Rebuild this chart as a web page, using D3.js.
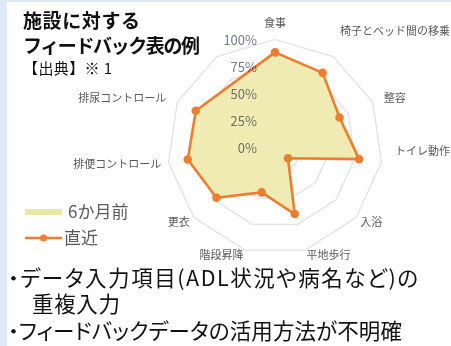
<!DOCTYPE html>
<html>
<head>
<meta charset="utf-8">
<script src="https://cdn.jsdelivr.net/npm/d3@7"></script>
<style>
  html, body { margin: 0; padding: 0; background: #fff; }
  svg { display: block; }
  text { font-family: "Noto Sans CJK JP", "Noto Sans", sans-serif; }
</style>
</head>
<body>
<svg id="chart" width="451" height="346"></svg>
<script>
// Barthel Index items; the last spoke of the radar carries no item
const categories = ["食事", "椅子とベッド間の移乗", "整容", "トイレ動作", "入浴", "平地歩行", "階段昇降", "更衣", "排便コントロール", "排尿コントロール", ""];
const sixMonthsAgo = [88, 82, 66, 79, 16, 65, 44, 72, 82, 81, null];
const latest       = [88, 82, 66, 79, 16, 65, 44, 72, 82, 81, null];
const radialTicks = [0, 25, 50, 75, 100];
const seriesNames = ["6か月前", "直近"];
const titleLines = ["施設に対する", "フィードバック表の例"];
const sourceNote = "【出典】※ 1";
const issueLines = ["・データ入力項目(ADL状況や病名など)の", "重複入力", "・フィードバックデータの活用方法が不明確"];

const W = 451, H = 346;
const svg = d3.select("#chart");

// page background with the pale blue frame on the top and left edges
svg.append("rect").attr("width", W).attr("height", H).attr("fill", "#fff");
svg.append("rect").attr("x", 0).attr("y", 0).attr("width", 7).attr("height", H).attr("fill", "#dfe8f5");
svg.append("rect").attr("x", 0).attr("y", 0).attr("width", W).attr("height", 2).attr("fill", "#dfe8f5");

// radar geometry
const cx = 275, cy = 147, R = 107.5;
const n = categories.length;
const angle = d3.scaleLinear().domain([0, n]).range([0, 2 * Math.PI]);
const r = d3.scaleLinear().domain([0, 100]).range([0, R]);
const g = svg.append("g").attr("transform", `translate(${cx},${cy})`);

const radial = d3.lineRadial()
  .angle(d => angle(d.i))
  .radius(d => r(d.v))
  .curve(d3.curveLinearClosed);

// grid rings
g.selectAll("path.ring")
  .data(radialTicks.filter(t => t > 0))
  .join("path")
  .attr("class", "ring")
  .attr("d", t => radial(categories.map((c, i) => ({ i, v: t }))))
  .attr("fill", "none")
  .attr("stroke", "#e2e2e2")
  .attr("stroke-width", 1.3);

const toPoints = vals => vals.map((v, i) => ({ i, v })).filter(d => d.v != null);

// earlier period: filled area
g.append("path")
  .attr("d", radial(toPoints(sixMonthsAgo)))
  .attr("fill", "#efebb3");

// most recent period: line with markers
const recent = toPoints(latest);
g.append("path")
  .attr("d", radial(recent))
  .attr("fill", "none")
  .attr("stroke", "#ed7d31")
  .attr("stroke-width", 2.6)
  .attr("stroke-linejoin", "round");
g.selectAll("circle.pt")
  .data(recent)
  .join("circle")
  .attr("class", "pt")
  .attr("cx", d => Math.sin(angle(d.i)) * r(d.v))
  .attr("cy", d => -Math.cos(angle(d.i)) * r(d.v))
  .attr("r", 4.3)
  .attr("fill", "#ed7d31");

// radial value labels, left of the vertical spoke
g.selectAll("text.tick")
  .data(radialTicks)
  .join("text")
  .attr("class", "tick")
  .attr("x", -18)
  .attr("y", t => -r(t))
  .attr("text-anchor", "end")
  .attr("dominant-baseline", "central")
  .attr("font-size", 13)
  .attr("fill", "#767a86")
  .style("mix-blend-mode", "multiply")
  .text(t => d3.format(".0%")(t / 100));

// category labels around the rim
g.selectAll("text.cat")
  .data(categories.map((c, i) => ({ c, i })).filter(d => d.c))
  .join("text")
  .attr("class", "cat")
  .each(function (d) {
    const a = angle(d.i);
    const s = Math.sin(a), co = Math.cos(a);
    const rr = R + 8 + 10 * Math.max(0, co) - 4 * Math.max(0, -co);
    let x = s * rr, y = -co * rr;
    const anchor = s > 0.1 ? "start" : s < -0.1 ? "end" : "middle";
    const t = d3.select(this)
      .attr("text-anchor", anchor)
      .attr("dominant-baseline", "central")
      .attr("font-size", 11)
      .attr("fill", "#585858")
      .text(d.c);
    // keep long labels inside the right edge, lifted clear of the rim
    const w = this.getComputedTextLength();
    if (anchor === "start" && cx + x + w > W - 10) {
      x = W - 1 - cx - w;
      y -= 13;
    }
    t.attr("x", x).attr("y", y);
  });

// title block
svg.selectAll("text.title")
  .data(titleLines)
  .join("text")
  .attr("class", "title")
  .attr("x", 23)
  .attr("y", (d, i) => 28 + i * 25)
  .attr("font-size", 19)
  .attr("font-weight", "bold")
  .attr("fill", "#111")
  .attr("textLength", (d, i) => [117, 177][i])
  .attr("lengthAdjust", "spacing")
  .text(d => d);
svg.append("text")
  .attr("x", 23).attr("y", 74)
  .attr("font-size", 15)
  .attr("fill", "#111")
  .attr("textLength", 89)
  .attr("lengthAdjust", "spacing")
  .text(sourceNote);

// legend
const lg = svg.append("g");
lg.append("rect").attr("x", 25).attr("y", 209).attr("width", 37).attr("height", 6).attr("fill", "#ebe7a6");
lg.append("line").attr("x1", 25).attr("x2", 62).attr("y1", 238).attr("y2", 238)
  .attr("stroke", "#ed7d31").attr("stroke-width", 2.6);
lg.append("circle").attr("cx", 43.5).attr("cy", 238).attr("r", 3.5).attr("fill", "#ed7d31");
lg.selectAll("text")
  .data(seriesNames)
  .join("text")
  .attr("x", (d, i) => [68, 64][i])
  .attr("y", (d, i) => [218, 244][i])
  .attr("font-size", 17)
  .attr("fill", "#5a5a5a")
  .text(d => d);

// issues listed below the chart
svg.selectAll("text.issue")
  .data(issueLines)
  .join("text")
  .attr("class", "issue")
  .attr("x", (d, i) => [8, 32, 8][i])
  .attr("y", (d, i) => [286, 312, 339][i])
  .attr("font-size", 21.5)
  .attr("fill", "#111")
  .style("font-feature-settings", "'palt'")
  .attr("textLength", (d, i) => [410, 88, 394][i])
  .attr("lengthAdjust", "spacing")
  .text(d => d);
</script>
</body>
</html>
